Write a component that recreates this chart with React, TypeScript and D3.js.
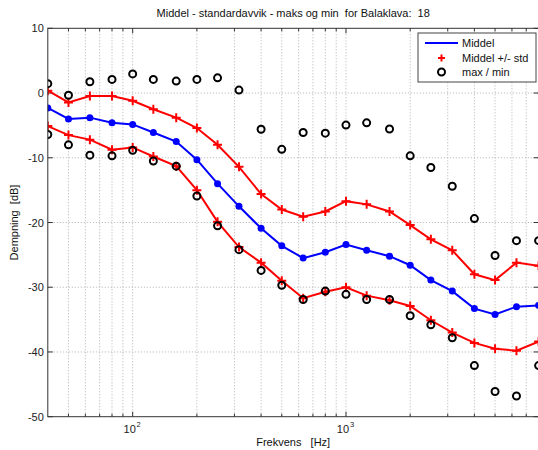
import React from "react";
import * as d3 from "d3";

// third-octave band centre frequencies
const freqs = [40, 50, 63, 80, 100, 125, 160, 200, 250, 315, 400, 500, 630, 800, 1000, 1250, 1600, 2000, 2500, 3150, 4000, 5000, 6300, 8000];
const middel = [-2.3, -4.0, -3.8, -4.6, -4.85, -6.1, -7.5, -10.3, -14.0, -17.5, -20.9, -23.6, -25.5, -24.6, -23.4, -24.3, -25.2, -26.6, -28.9, -30.6, -33.3, -34.2, -33.0, -32.8];
const plusStd = [0.36, -1.45, -0.45, -0.45, -1.2, -2.5, -3.8, -5.4, -8.0, -11.4, -15.6, -18.0, -19.1, -18.3, -16.7, -17.2, -18.3, -20.4, -22.6, -24.3, -28.0, -28.9, -26.2, -26.7];
const minusStd = [-5.1, -6.5, -7.2, -8.75, -8.4, -9.8, -11.3, -15.0, -19.9, -23.8, -26.2, -29.0, -31.7, -30.7, -30.0, -31.3, -32.0, -32.9, -35.1, -37.0, -38.6, -39.5, -39.8, -38.4];
const maxVals = [1.45, -0.35, 1.75, 2.1, 2.95, 2.1, 1.85, 2.1, 2.35, 0.45, -5.6, -8.7, -6.1, -6.2, -4.95, -4.6, -5.55, -9.7, -11.5, -14.4, -19.4, -25.1, -22.8, -22.8];
const minVals = [-6.4, -8.0, -9.6, -9.7, -8.85, -10.5, -11.3, -15.9, -20.5, -24.2, -27.4, -29.7, -31.9, -30.6, -31.1, -31.9, -31.9, -34.4, -35.8, -37.8, -42.1, -46.1, -46.8, -42.1];

const yTicks = [10, 0, -10, -20, -30, -40, -50];
const xMajor = [100, 1000];
const xMinor = [50, 60, 70, 80, 90, 200, 300, 400, 500, 600, 700, 800, 900, 2000, 3000, 4000, 5000, 6000, 7000];
const legendItems = ["Middel", "Middel +/- std", "max / min"];

const W = 538;
const H = 450;
const left = 47.8;
const right = 538.6;
const top = 28.3;
const bottom = 416.7;
const font = "'Liberation Sans', Arial, Helvetica, sans-serif";

export default function App() {
  const x = d3.scaleLog().domain([40, 8000]).range([left, right]);
  const y = d3.scaleLinear().domain([-50, 10]).range([bottom, top]);
  const line = d3
    .line<number>()
    .x((_, i) => x(freqs[i]))
    .y((d) => y(d));

  const plus = (cx: number, cy: number, s: number, key: string) => (
    <path key={key} d={`M${cx - s},${cy}H${cx + s}M${cx},${cy - s}V${cy + s}`} stroke="red" strokeWidth={2} />
  );

  const grid = { stroke: "#b0b0b0", strokeWidth: 1, strokeDasharray: "1,2" };

  return (
    <svg width={W} height={H} style={{ position: "absolute", left: 0, top: 0, background: "white" }} fontFamily={font}>
      <rect x={0} y={0} width={W} height={H} fill="white" />
      <defs>
        <clipPath id="plotClip">
          <rect x={left} y={top} width={right - left} height={bottom - top} />
        </clipPath>
      </defs>
      {/* grid */}
      {[...xMajor, ...xMinor].map((f) => (
        <line key={"gx" + f} x1={x(f)} x2={x(f)} y1={top} y2={bottom} {...grid} />
      ))}
      {yTicks.slice(1, -1).map((t) => (
        <line key={"gy" + t} x1={left} x2={right} y1={y(t)} y2={y(t)} {...grid} />
      ))}
      {/* ticks */}
      {xMajor.map((f) => (
        <g key={"tx" + f}>
          <line x1={x(f)} x2={x(f)} y1={bottom} y2={bottom - 5} stroke="#333" />
          <line x1={x(f)} x2={x(f)} y1={top} y2={top + 5} stroke="#333" />
          <text x={x(f) - 3} y={bottom + 16} fontSize={11} textAnchor="middle" fill="#222">
            10
          </text>
          <text x={x(f) + 6} y={bottom + 10} fontSize={7.5} textAnchor="middle" fill="#222">
            {Math.round(Math.log10(f))}
          </text>
        </g>
      ))}
      {xMinor.map((f) => (
        <g key={"tm" + f}>
          <line x1={x(f)} x2={x(f)} y1={bottom} y2={bottom - 3} stroke="#333" />
          <line x1={x(f)} x2={x(f)} y1={top} y2={top + 3} stroke="#333" />
        </g>
      ))}
      {yTicks.map((t) => (
        <g key={"ty" + t}>
          <line x1={left} x2={left + 5} y1={y(t)} y2={y(t)} stroke="#333" />
          <line x1={right - 5} x2={right} y1={y(t)} y2={y(t)} stroke="#333" />
          <text x={left - 4} y={y(t) + 4} fontSize={11} textAnchor="end" fill="#222">
            {t}
          </text>
        </g>
      ))}
      {/* data */}
      <g clipPath="url(#plotClip)">
        <path d={line(plusStd) ?? ""} fill="none" stroke="red" strokeWidth={2} />
        <path d={line(minusStd) ?? ""} fill="none" stroke="red" strokeWidth={2} />
        <path d={line(middel) ?? ""} fill="none" stroke="blue" strokeWidth={2} />
        {middel.map((d, i) => (
          <circle key={"m" + i} cx={x(freqs[i])} cy={y(d)} r={3.5} fill="blue" />
        ))}
        {plusStd.map((d, i) => plus(x(freqs[i]), y(d), 4.5, "p" + i))}
        {minusStd.map((d, i) => plus(x(freqs[i]), y(d), 4.5, "n" + i))}
        {maxVals.map((d, i) => (
          <circle key={"mx" + i} cx={x(freqs[i])} cy={y(d)} r={3.5} fill="none" stroke="black" strokeWidth={2} />
        ))}
        {minVals.map((d, i) => (
          <circle key={"mn" + i} cx={x(freqs[i])} cy={y(d)} r={3.5} fill="none" stroke="black" strokeWidth={2} />
        ))}
      </g>
      {/* axes box */}
      <rect x={left} y={top} width={right - left} height={bottom - top} fill="none" stroke="#333" strokeWidth={1} />
      {/* legend */}
      <g>
        <rect x={418} y={33} width={118} height={49} fill="white" stroke="#444" strokeWidth={1} />
        <line x1={425} x2={458} y1={43} y2={43} stroke="blue" strokeWidth={2} />
        {plus(441.5, 58, 3.5, "lg")}
        <circle cx={441.5} cy={72} r={3.5} fill="none" stroke="black" strokeWidth={2} />
        {legendItems.map((t, i) => (
          <text key={t} x={462} y={47 + i * 14.5} fontSize={11} fill="#111">
            {t}
          </text>
        ))}
      </g>
      {/* labels */}
      <text x={(left + right) / 2} y={17} fontSize={11} textAnchor="middle" fill="#111" style={{ whiteSpace: "pre" }}>
        {"Middel - standardavvik - maks og min  for Balaklava:  18"}
      </text>
      <text x={(left + right) / 2} y={446} fontSize={11} textAnchor="middle" fill="#111" style={{ whiteSpace: "pre" }}>
        {"Frekvens   [Hz]"}
      </text>
      <text
        transform={`translate(18,${(top + bottom) / 2}) rotate(-90)`}
        fontSize={11}
        textAnchor="middle"
        fill="#111"
        style={{ whiteSpace: "pre" }}
      >
        {"Dempning  [dB]"}
      </text>
    </svg>
  );
}
